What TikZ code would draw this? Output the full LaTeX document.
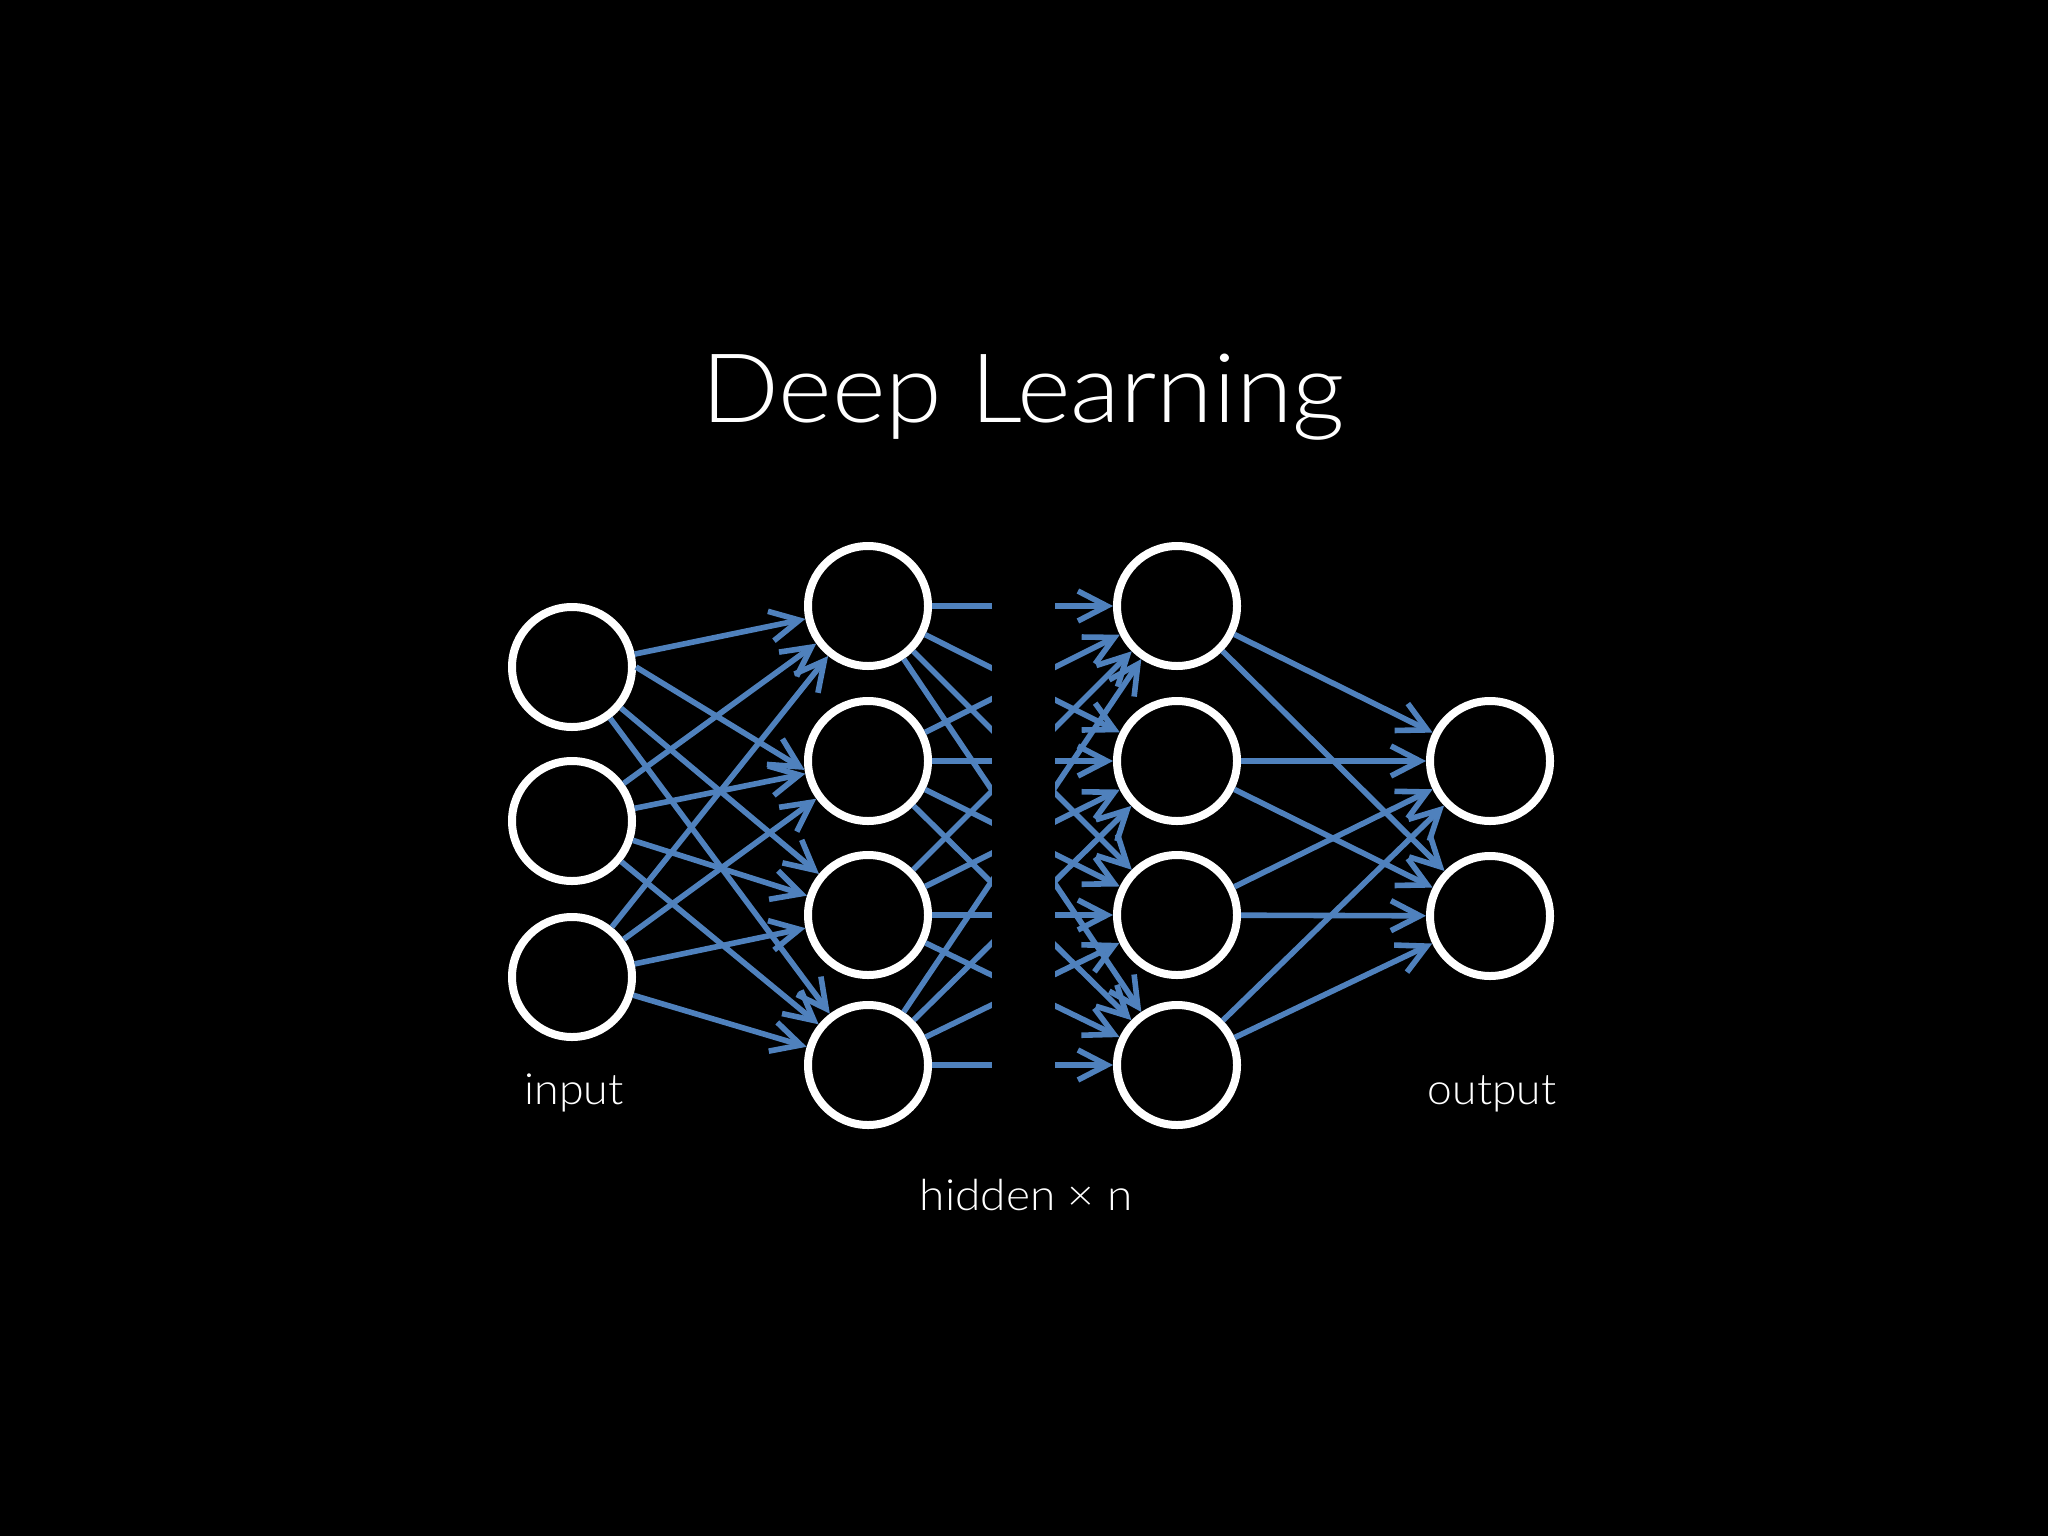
\documentclass[tikz,border=0pt]{standalone}
\usepackage{fontspec}
\IfFontExistsTF{Lato Light}{\setmainfont{Lato Light}}{\setmainfont{Lato}}
\usetikzlibrary{arrows.meta}
\definecolor{nnblue}{RGB}{79,129,189}
\tikzset{
  neuron/.style={circle, draw=white, fill=black, line width=4pt, minimum size=60pt, inner sep=0pt},
  conn/.style={draw=nnblue, line width=2.8pt, -{Straight Barb[length=14.5pt,width=15pt]}},
  lbl/.style={text=white, font=\fontsize{21.5}{25}\selectfont, anchor=base, inner sep=0pt},
  ttl/.style={text=white, font=\fontsize{48}{56}\selectfont, anchor=base, inner sep=0pt},
}
\begin{document}
\begin{tikzpicture}[x=0.5pt,y=-0.5pt]
\fill[black] (0,0) rectangle (2048,1536);
\useasboundingbox (0,0) rectangle (2048,1536);
% title and labels
\node[ttl] (title) at (1023,422) {\scalebox{1.07}[1]{Deep Learning}};
\node[lbl] (linput) at (574,1104) {\scalebox{1.04}[1]{input}};
\node[lbl] (loutput) at (1492,1104) {\scalebox{1.03}[1]{output}};
\node[lbl] (lhidden) at (1026,1210) {\scalebox{1.07}[1]{hidden × n}};
% neurons
\node[neuron] (i1) at (572,667) {};
\node[neuron] (i2) at (572,821) {};
\node[neuron] (i3) at (572,977) {};
\node[neuron] (ha1) at (868,606) {};
\node[neuron] (ha2) at (868,761) {};
\node[neuron] (ha3) at (868,915) {};
\node[neuron] (ha4) at (868,1065) {};
\node[neuron] (hb1) at (1177,606) {};
\node[neuron] (hb2) at (1177,761) {};
\node[neuron] (hb3) at (1177,915) {};
\node[neuron] (hb4) at (1177,1065) {};
\node[neuron] (o1) at (1490,761) {};
\node[neuron] (o2) at (1490,916) {};
% input -> hidden 1
\draw[conn] (i1) -- (ha1);
\draw[conn] (i1.east) -- (ha2.188);
\draw[conn] (i1) -- (ha3);
\draw[conn] (i1) -- (ha4);
\foreach \s in {i2,i3}{
  \foreach \t in {ha1,ha2,ha3,ha4}{
    \draw[conn] (\s) -- (\t);
  }
}
% hidden 1 -> hidden 2 (middle cut out)
\foreach \s in {ha1,ha2,ha3,ha4}{
  \foreach \t in {hb1,hb2,hb3,hb4}{
    \draw[conn] (\s) -- (\t);
  }
}
\fill[black] (992,540) rectangle (1055,1130);
% hidden 2 -> output
\foreach \s in {hb1,hb2,hb3,hb4}{
  \foreach \t in {o1,o2}{
    \draw[conn] (\s) -- (\t);
  }
}
\end{tikzpicture}
\end{document}
